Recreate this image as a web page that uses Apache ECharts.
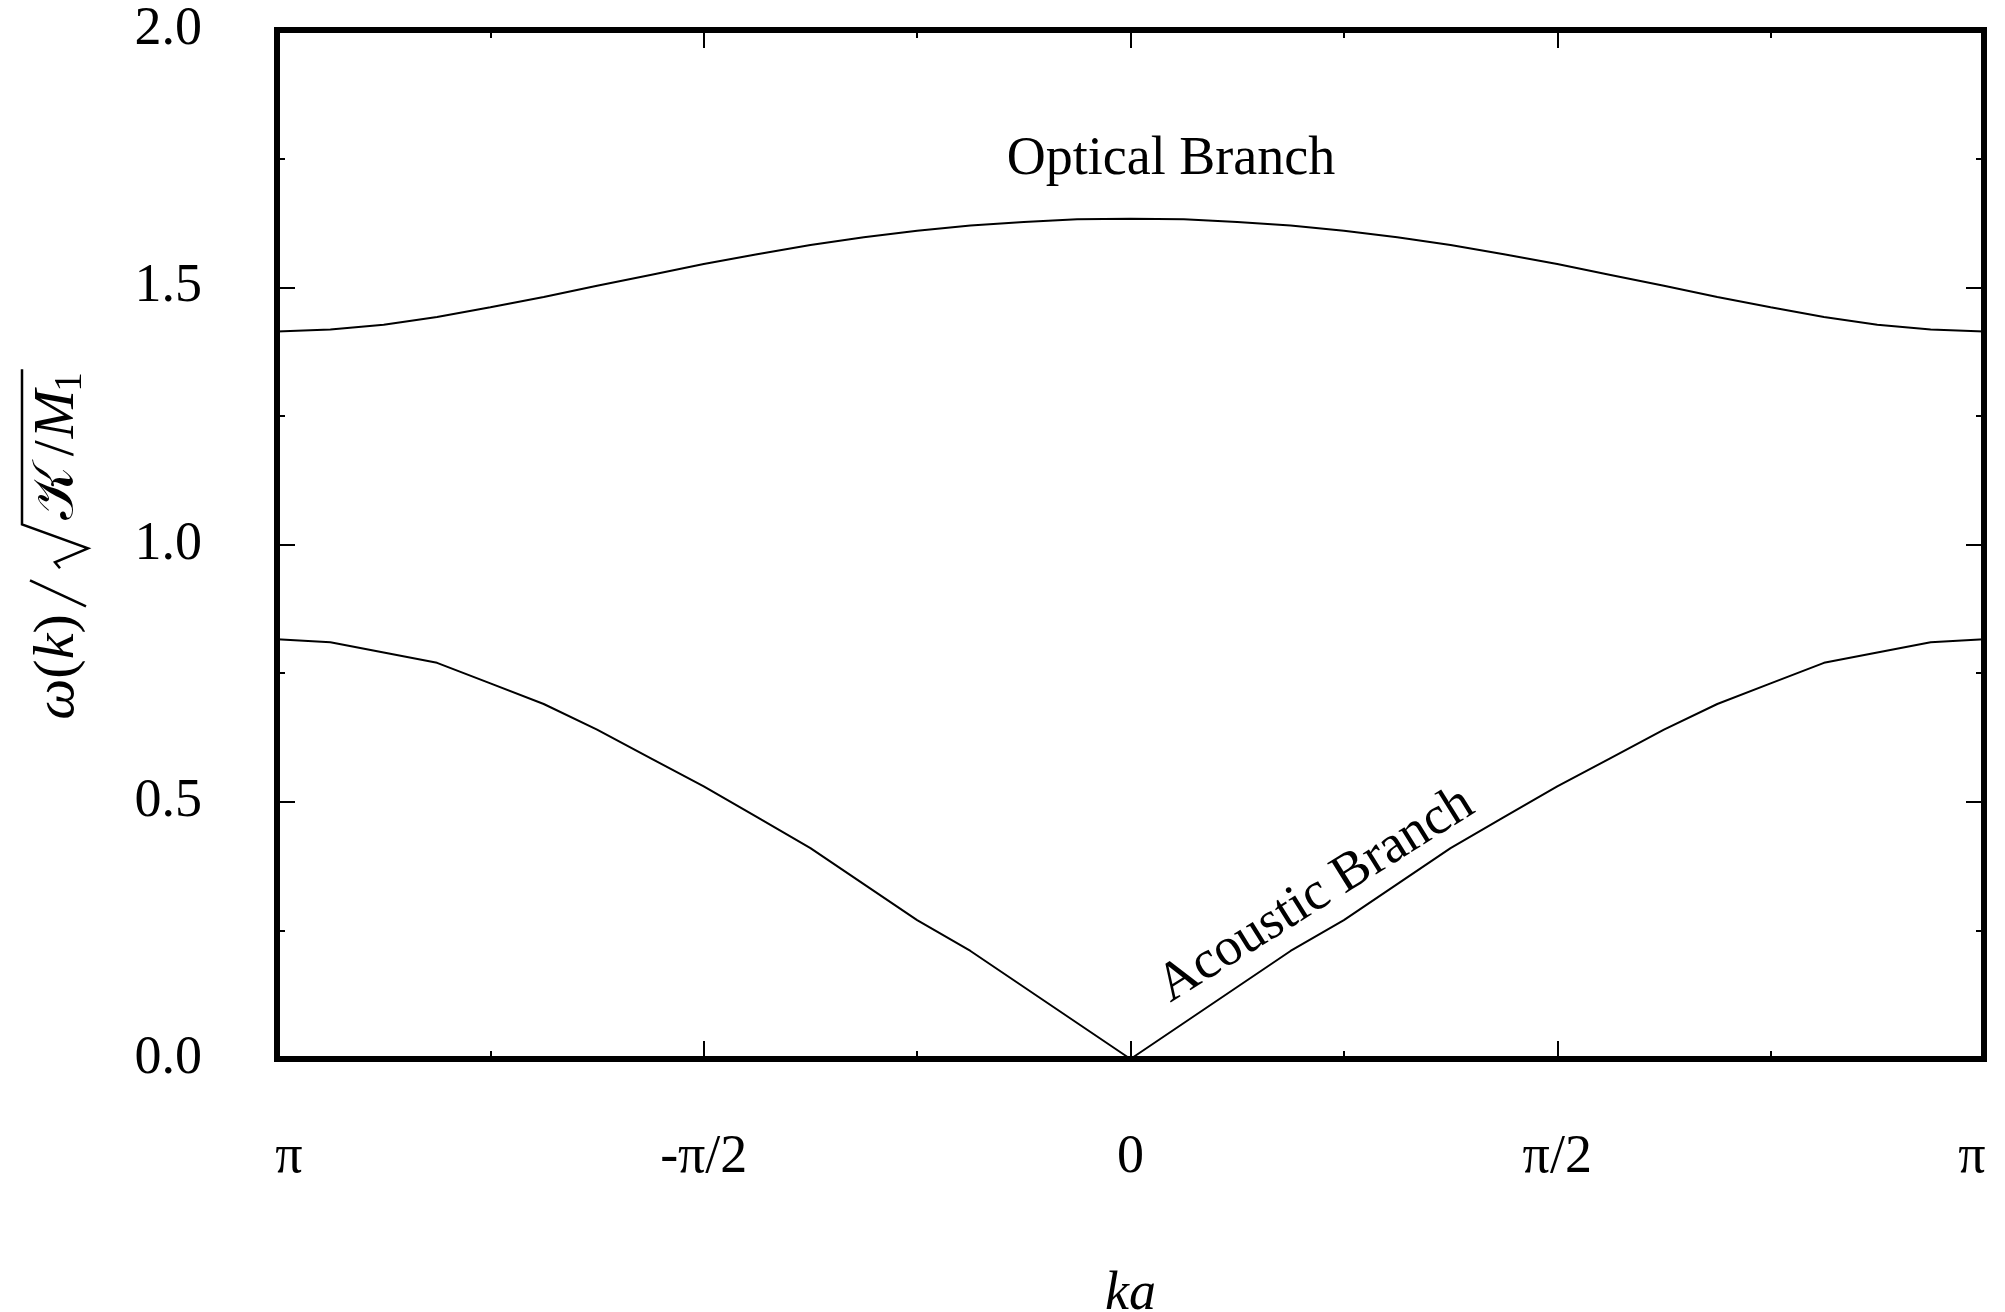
<!DOCTYPE html>
<html><head><meta charset="utf-8">
<script src="https://cdn.jsdelivr.net/npm/echarts@6/dist/echarts.min.js"></script>
<style>html,body{margin:0;padding:0;background:#fff}#c{width:2005px;height:1312px}</style>
</head><body><div id="c"></div>
<script>
// ka in units of pi
const kaOverPi = [-1, -0.9375, -0.875, -0.8125, -0.75, -0.6875, -0.625, -0.5625, -0.5, -0.4375, -0.375, -0.3125, -0.25, -0.1875, -0.125, -0.0625, 0,
  0.0625, 0.125, 0.1875, 0.25, 0.3125, 0.375, 0.4375, 0.5, 0.5625, 0.625, 0.6875, 0.75, 0.8125, 0.875, 0.9375, 1];
const acoustic = [0.816, 0.81, 0.79, 0.77, 0.73, 0.69, 0.64, 0.585, 0.53, 0.47, 0.41, 0.34, 0.27, 0.21, 0.14, 0.07, 0,
  0.07, 0.14, 0.21, 0.27, 0.34, 0.41, 0.47, 0.53, 0.585, 0.64, 0.69, 0.73, 0.77, 0.79, 0.81, 0.816];
const optical = [1.414, 1.418, 1.427, 1.442, 1.461, 1.481, 1.503, 1.524, 1.545, 1.564, 1.582, 1.597, 1.610, 1.620, 1.627, 1.632, 1.633,
  1.632, 1.627, 1.620, 1.610, 1.597, 1.582, 1.564, 1.545, 1.524, 1.503, 1.481, 1.461, 1.442, 1.427, 1.418, 1.414];
const xTickValues = [-1, -0.5, 0, 0.5, 1];
const xTickLabels = ['π', '-π/2', '0', 'π/2', 'π'];
const yTickLabels = ['0.0', '0.5', '1.0', '1.5', '2.0'];
const annotations = [
  { text: 'Optical Branch', ka: 0.0475, w: 1.747, angle: 0 },
  { text: 'Acoustic Branch', ka: 0.2173, w: 0.3186, angle: 32 }
];

const FONT = '"Liberation Serif", "Times New Roman", serif';
const FS = 54;
const chart = echarts.init(document.getElementById('c'), null, { renderer: 'canvas' });

function xFmt(v) {
  const i = xTickValues.findIndex(t => Math.abs(t - v) < 1e-9);
  if (i < 0) return '';
  if (i === 0) return '{l|' + xTickLabels[i] + '}';
  if (i === xTickValues.length - 1) return '{r|' + xTickLabels[i] + '}';
  return xTickLabels[i];
}
function yFmt(v) { return yTickLabels[Math.round(v / 0.5)] || ''; }

const tickCommon = { show: true, inside: true, length: 18, lineStyle: { color: '#000', width: 2 } };
const minorCommon = { show: true, splitNumber: 2, length: 8, lineStyle: { color: '#000', width: 2 } };

const option = {
  animation: false,
  backgroundColor: '#fff',
  grid: { left: 277, right: 21, top: 30, bottom: 253, show: true, borderColor: '#000', borderWidth: 6,
          backgroundColor: 'transparent', containLabel: false, outerBoundsMode: 'none' },
  xAxis: [
    { type: 'value', min: -1, max: 1, interval: 0.5, position: 'bottom',
      axisLine: { show: false, onZero: false }, axisTick: tickCommon, minorTick: minorCommon,
      splitLine: { show: false },
      axisLabel: { show: true, margin: 72, color: '#000', fontFamily: FONT, fontSize: FS, formatter: xFmt,
        showMinLabel: true, showMaxLabel: true,
        rich: { l: { fontFamily: FONT, fontSize: FS, color: '#000', padding: [0, 0, 0, 24] },
                r: { fontFamily: FONT, fontSize: FS, color: '#000', padding: [0, 24, 0, 0] } } },
      name: 'ka', nameLocation: 'middle', nameGap: 209,
      nameTextStyle: { fontFamily: FONT, fontSize: FS, fontStyle: 'italic', color: '#000' } },
    { type: 'value', min: -1, max: 1, interval: 0.5, position: 'top',
      axisLine: { show: false, onZero: false }, axisTick: tickCommon, minorTick: minorCommon,
      splitLine: { show: false }, axisLabel: { show: false } }
  ],
  yAxis: [
    { type: 'value', min: 0, max: 2, interval: 0.5, position: 'left',
      axisLine: { show: false, onZero: false }, axisTick: tickCommon, minorTick: minorCommon,
      splitLine: { show: false },
      axisLabel: { show: true, margin: 75, color: '#000', fontFamily: FONT, fontSize: FS, formatter: yFmt } },
    { type: 'value', min: 0, max: 2, interval: 0.5, position: 'right',
      axisLine: { show: false, onZero: false }, axisTick: tickCommon, minorTick: minorCommon,
      splitLine: { show: false }, axisLabel: { show: false } }
  ],
  series: [
    { name: 'Acoustic Branch', type: 'line', xAxisIndex: 0, yAxisIndex: 0, showSymbol: false, symbol: 'none',
      lineStyle: { color: '#000', width: 2 }, data: kaOverPi.map((x, i) => [x, acoustic[i]]), z: 3 },
    { name: 'Optical Branch', type: 'line', xAxisIndex: 0, yAxisIndex: 0, showSymbol: false, symbol: 'none',
      lineStyle: { color: '#000', width: 2 }, data: kaOverPi.map((x, i) => [x, optical[i]]), z: 3 }
  ]
};
chart.setOption(option);

// ---------- annotations and y-axis title ----------
const ctx = document.createElement('canvas').getContext('2d');
function tw(t, f) { ctx.font = f; return ctx.measureText(t).width; }
const TF = 58;
const fN = TF + 'px ' + FONT;
const fI = 'italic ' + TF + 'px ' + FONT;
const fS = Math.round(TF * 0.68) + 'px ' + FONT;
const fA = FS + 'px ' + FONT;

const gfx = [];
annotations.forEach(a => {
  const p = chart.convertToPixel({ gridIndex: 0 }, [a.ka, a.w]);
  gfx.push({ type: 'text', x: p[0], y: p[1], rotation: a.angle * Math.PI / 180,
    style: { text: a.text, font: fA, fill: '#000', align: 'center', verticalAlign: 'middle',
             textAlign: 'center', textVerticalAlign: 'middle' }, z: 10 });
});

// y title pieces laid out along local x
const pieces = [];
let cx = 0;
function add(t, f, dy, extra) { pieces.push({ t, f, x: cx, dy: dy || 0 }); cx += tw(t, f) + (extra || 0); }
add('ω', fI); add('(', fN); add('k', fI); add(')', fN, 0, 8);
// tall slash drawn separately
const s0 = cx;
cx += 26;
cx += 10;
const r0 = cx;
cx += 50;
add('𝒦', fN, 0, 10); add('/', fN, 0, 2); add('M', fI, 0, -2); add('1', fS, 13);
const L = cx + 3;
const titleChildren = pieces.map(p => ({ type: 'text', x: p.x, y: p.dy,
  style: { text: p.t, font: p.f, fill: '#000', align: 'left', verticalAlign: 'middle', textAlign: 'left', textVerticalAlign: 'middle' } }));
titleChildren.push({ type: 'polyline', shape: { points: [[s0, 28], [s0 + 26, -28]] },
  style: { stroke: '#000', lineWidth: 2.5, fill: null } });
titleChildren.push({ type: 'polyline', shape: { points: [[r0 + 2, 2], [r0 + 8, -3], [r0 + 22, 30], [r0 + 46, -36], [L, -36]] },
  style: { stroke: '#000', lineWidth: 2.5, fill: null } });
const gTop = chart.convertToPixel({ gridIndex: 0 }, [0, 2])[1];
const gBot = chart.convertToPixel({ gridIndex: 0 }, [0, 0])[1];
gfx.push({ type: 'group', x: 58, y: (gTop + gBot) / 2 + L / 2, rotation: Math.PI / 2, children: titleChildren, z: 10 });

chart.setOption({ graphic: gfx });
</script></body></html>
